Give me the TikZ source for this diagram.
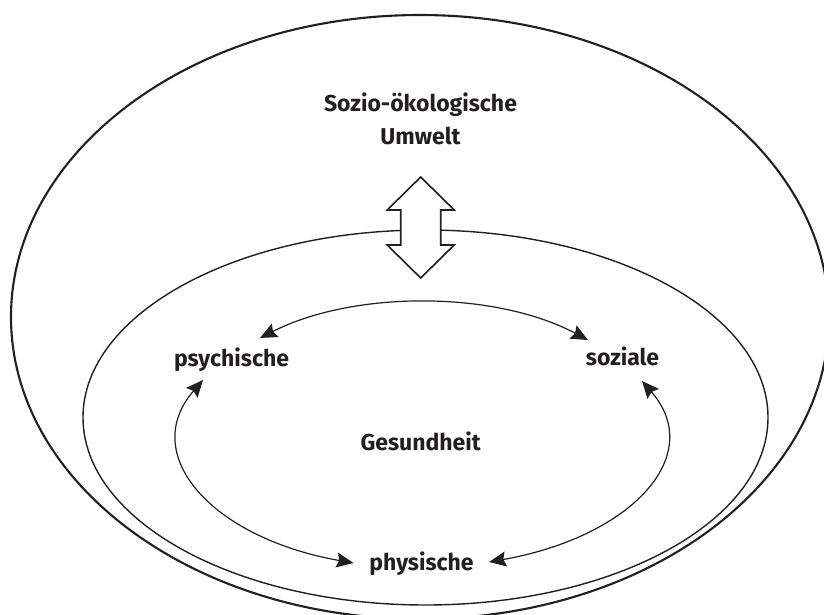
\documentclass[tikz,border=0pt]{standalone}
\usepackage{fontspec}
\setmainfont{Fira Sans}
\usetikzlibrary{arrows.meta, positioning, calc}
\definecolor{ink}{RGB}{35,31,32}
\tikzset{
  termtext/.style={font=\bfseries\fontsize{23}{33}\selectfont, text=ink, anchor=base, inner sep=2pt},
  link/.style={{Stealth[length=17pt,width=15pt,inset=2.5pt]}-{Stealth[length=17pt,width=15pt,inset=2.5pt]}, line width=1.2pt, draw=ink, fill=ink}
}

\begin{document}
\begin{tikzpicture}[x=1pt, y=1pt]
\useasboundingbox (0,0) rectangle (824,614);
\clip (0,0) rectangle (824,614);

% Umwelt und Gesundheit
\draw [ink, line width=2.1pt] (420,297) ellipse [x radius=409pt, y radius=302pt];
\draw [ink, line width=1.4pt] (425.5,196.5) ellipse [x radius=342.5pt, y radius=187.5pt];

% Austausch
\coordinate (swap) at (420.7,386.5);
\draw [ink, line width=1.6pt, fill=white] ($(swap)+(0,50.5)$) -- ++(-33.5,-33) -- ++(13.5,0) -- ++(0,-35) -- ++(-13.5,0)
    -- ++(33.5,-33) -- ++(33.5,33) -- ++(-13.5,0) -- ++(0,35) -- ++(13.5,0) -- cycle;

\node [termtext] (sozio) at (420.5,502.3) {Sozio-ökologische};
\node [termtext] (umwelt) at ([yshift=-33.3pt]sozio.base) {Umwelt};
\node [termtext] (gesund) at (420.7,163.3) {Gesundheit};
\node [termtext] (psy) at (231.5,247.3) {psychische};
\node [termtext] (soz) at (622.5,248.3) {soziale};
\node [termtext] (phy) at (421.5,44) {physische};

\draw [link, fill=none] ([shift={(28.5,28.7)}]psy.base) to [out=27, in=152, looseness=0.82] ([shift={(-34.5,25.7)}]soz.base);
\draw [link, fill=none] ([shift={(-28.5,-13.3)}]psy.base) .. controls +(229:99) and +(170:144) .. ([shift={(-68,7)}]phy.base);
\draw [link, fill=none] ([shift={(19.5,-15.3)}]soz.base) .. controls +(311:99) and +(10:144) .. ([shift={(67.5,8)}]phy.base);
\end{tikzpicture}
\end{document}
